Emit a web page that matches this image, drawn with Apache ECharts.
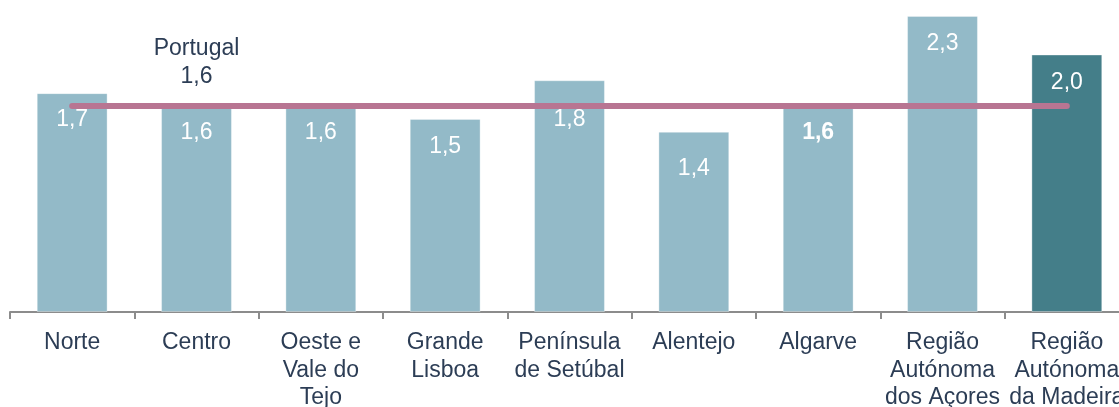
<!DOCTYPE html>
<html>
<head>
<meta charset="utf-8">
<script src="https://cdn.jsdelivr.net/npm/echarts@6/dist/echarts.min.js"></script>
<style>
  html, body { margin: 0; padding: 0; background: #ffffff; }
  #chart { width: 1119px; height: 407px; }
</style>
</head>
<body>
<div id="chart"></div>
<script>
// Regions (NUTS II) and their values
const regions = [
  'Norte', 'Centro', 'Oeste e\nVale do\nTejo', 'Grande\nLisboa', 'Península\nde Setúbal',
  'Alentejo', 'Algarve', 'Região\nAutónoma\ndos Açores', 'Região\nAutónoma\nda Madeira'
];
const regionValues = [1.7, 1.6, 1.6, 1.5, 1.8, 1.4, 1.6, 2.3, 2.0];
const portugalName = 'Portugal';
const portugalValue = 1.6;

// Styling
const FONT = '"Liberation Sans", Arial, sans-serif';
const TEXT = '#2C3D55';
const BAR_LIGHT = '#93BAC8';
const BAR_DARK = '#447E89';
const LINE = '#B87592';
const highlighted = 'Região\nAutónoma\nda Madeira';
const boldLabel = 'Algarve';
// distance of each value label from its bar top
const labelGap = [16, 16, 16, 17, 28, 26, 16, 17, 17];

const fmt = v => v.toFixed(1).replace('.', ',');

const barData = regionValues.map((v, i) => ({
  value: v,
  itemStyle: { color: regions[i] === highlighted ? BAR_DARK : BAR_LIGHT },
  label: {
    distance: labelGap[i],
    fontWeight: regions[i] === boldLabel ? 'bold' : 'normal'
  }
}));

const lineData = regions.map((r, i) => ({
  value: portugalValue,
  label: i === 1 ? {
    show: true,
    position: 'top',
    distance: 15,
    formatter: portugalName + '\n' + fmt(portugalValue),
    color: TEXT,
    fontFamily: FONT,
    fontSize: 23,
    lineHeight: 28,
    align: 'center'
  } : { show: false }
}));

const chart = echarts.init(document.getElementById('chart'), null, { renderer: 'canvas' });
chart.setOption({
  animation: false,
  // plot area runs slightly past the right edge of the page
  grid: {
    left: 10, width: 1119, top: 3, bottom: 95,
    containLabel: false,
    outerBoundsMode: 'none'
  },
  xAxis: {
    type: 'category',
    data: regions,
    axisLine: { show: true, lineStyle: { color: '#8C8C8C', width: 2 } },
    axisTick: { show: true, length: 7, lineStyle: { color: '#8C8C8C', width: 2 } },
    axisLabel: {
      interval: 0,
      margin: 17,
      color: TEXT,
      fontFamily: FONT,
      fontSize: 23,
      lineHeight: 27.5,
      align: 'center'
    }
  },
  yAxis: {
    type: 'value',
    min: 0,
    max: 2.4,
    show: false,
    splitLine: { show: false }
  },
  series: [
    {
      type: 'bar',
      data: barData,
      barWidth: '57%',
      z: 2,
      itemStyle: { borderColor: 'rgba(255,255,255,0.35)', borderWidth: 1 },
      label: {
        show: true,
        position: 'insideTop',
        color: '#ffffff',
        fontFamily: FONT,
        fontSize: 23,
        lineHeight: 22,
        formatter: p => fmt(p.value)
      }
    },
    {
      type: 'line',
      data: lineData,
      symbol: 'circle',
      symbolSize: 0,
      showSymbol: true,
      z: 5,
      lineStyle: { color: LINE, width: 6, cap: 'round' },
      itemStyle: { color: LINE },
      emphasis: { disabled: true }
    }
  ]
});
</script>
</body>
</html>
